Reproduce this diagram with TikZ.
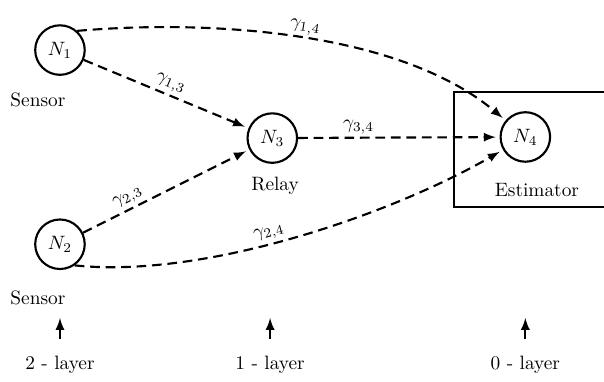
\documentclass[tikz,border=0pt]{standalone}
\usetikzlibrary{arrows}
\begin{document}
\begin{tikzpicture}[>=latex, line width=1.1pt, shorten >=2pt]
    \tikzstyle{agent}=[circle,draw,minimum size=0.9cm,inner sep=0pt]
    \tikzstyle{link}=[->,dash pattern=on 5pt off 3pt]
    \tikzstyle{gain}=[above,sloped,inner sep=1.5pt]
    \tikzstyle{annot}=[text centered]

    \useasboundingbox (0,0) rectangle (10.98,-6.93);

    % estimator box
    \node[draw, minimum width=3.1cm, minimum height=2.09cm] (box) at (9.8,-2.72) {};

    \node[agent] (N1) at (1.09,-0.91) {$N_1$};
    \node[agent] (N2) at (1.09,-4.44) {$N_2$};
    \node[agent] (N3) at (4.95,-2.51) {$N_3$};
    \node[agent] (N4) at (9.55,-2.49) {$N_4$};

    \node[annot] (s1) at (0.69,-1.82) {Sensor};
    \node[annot] (s2) at (0.69,-5.42) {Sensor};
    \node[annot] (rel) at (5.0,-3.38) {Relay};
    \node[annot] (est) at (9.76,-3.45) {Estimator};

    \path[link] (N1) edge node[gain, pos=0.5] {$\gamma_{1,3}$} (N3);
    \path[link] (N2) edge node[gain, pos=0.3] {$\gamma_{2,3}$} (N3);
    \path[link] (N3) edge node[gain, pos=0.3] {$\gamma_{3,4}$} (N4);
    \path[link] (N1.48) edge[out=5, in=140, looseness=0.8] node[gain, pos=0.5] {$\gamma_{1,4}$} (N4);
    \path[link] (N2.-55) edge[out=-6, in=210, looseness=0.75] node[gain, pos=0.45] {$\gamma_{2,4}$} (N4);

    % layers
    \foreach \name / \x / \k in {L2/1.09/2, L1/4.91/1, L0/9.55/0} {
        \node[annot] (\name) at (\x,-6.64) {\k\ - layer};
        \coordinate (\name-top) at (\x,-5.78);
        \draw[->, shorten >=0pt, shorten <=5pt] (\name.north) -- (\name-top);
    }
\end{tikzpicture}
\end{document}
